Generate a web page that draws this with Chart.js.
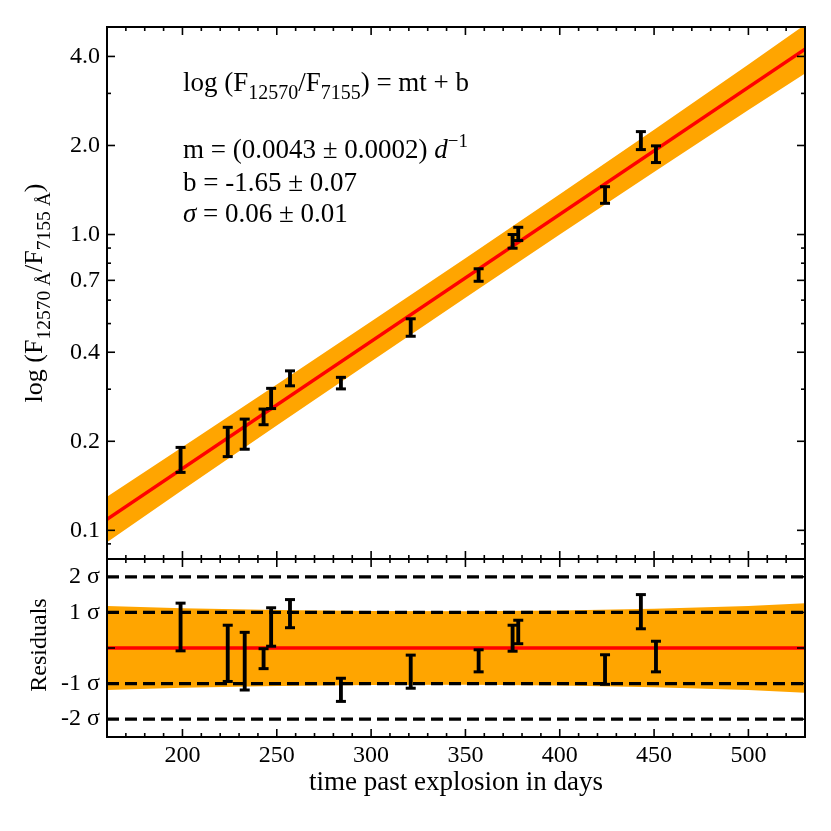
<!DOCTYPE html>
<html><head><meta charset="utf-8">
<script src="https://cdn.jsdelivr.net/npm/chart.js@4"></script>
<style>
html,body{margin:0;padding:0;background:#fff;}
#wrap{position:relative;width:831px;height:831px;background:#fff;overflow:hidden;}
canvas{position:absolute;left:0;}
</style></head><body>
<div id="wrap">
<canvas id="topc" width="831" height="560" style="top:0px"></canvas>
<canvas id="botc" width="831" height="282" style="top:549px"></canvas>
</div>
<script>
// ---------- data ----------
const days       = [199, 224, 233, 243, 247, 257, 284, 321, 357, 375, 378, 424, 443, 451];
const ratioLow   = [0.157, 0.1775, 0.188, 0.2275, 0.258, 0.308, 0.3007, 0.453, 0.695, 0.899, 0.954, 1.275, 1.937, 1.751];
const ratioHigh  = [0.1907, 0.223, 0.2377, 0.257, 0.302, 0.346, 0.329, 0.519, 0.766, 1.0, 1.058, 1.451, 2.228, 1.994];
const residLow   = [-0.08, -0.94, -1.18, -0.58, 0.05, 0.57, -1.50, -1.13, -0.67, -0.09, 0.12, -1.02, 0.54, -0.67];
const residHigh  = [1.26, 0.64, 0.44, -0.02, 1.13, 1.36, -0.85, -0.20, -0.05, 0.64, 0.78, -0.19, 1.50, 0.19];
const fitDays    = [160, 530];
const fitRatio   = [0.109, 4.23];
const fitResid   = [0, 0];
const bandDays      = [160, 200, 250, 300, 350, 400, 450, 500, 530];
const bandRatioLow  = [0.0912, 0.1368, 0.226, 0.3722, 0.611, 1.0, 1.627, 2.636, 3.50];
const bandRatioHigh = [0.130, 0.1912, 0.311, 0.508, 0.832, 1.368, 2.262, 3.753, 5.12];
const bandResidLow  = [-1.18, -1.12, -1.07, -1.04, -1.03, -1.05, -1.10, -1.18, -1.26];
const bandResidHigh = [1.18, 1.12, 1.07, 1.04, 1.03, 1.05, 1.10, 1.18, 1.26];
const sigmaLevels = [-2, -1, 1, 2];
const xTicks      = [200, 250, 300, 350, 400, 450, 500];
const xMinorTicks = [170,180,190,210,220,230,240,260,270,280,290,310,320,330,340,360,370,380,390,410,420,430,440,460,470,480,490,510,520];
const yTicks      = [0.1, 0.2, 0.4, 0.7, 1.0, 2.0, 4.0];
const yTickLabels = ['0.1', '0.2', '0.4', '0.7', '1.0', '2.0', '4.0'];
const yMinorTicks = [0.09, 0.3, 0.5, 0.6, 0.8, 0.9, 3.0];
const residTicks      = [-2, -1, 0, 1, 2];
const residTickLabels = ['-2 σ', '-1 σ', '', '1 σ', '2 σ'];
const xTitle = 'time past explosion in days';
// ------------------------------------------------

const SERIF = '"Liberation Serif", "Times New Roman", serif';
const ORANGE = '#ffa500';

function drawRich(ctx, segs, x, y, size, subScale) {
  const k = subScale || 0.7;
  const fontFor = s => (s.it ? 'italic ' : '') + ((s.sub || s.sup) ? size * k : size) + 'px ' + SERIF;
  let total = 0;
  segs.forEach(s => { ctx.font = fontFor(s); s.w = ctx.measureText(s.t).width; total += s.w; });
  return {total, draw(cx) {
    segs.forEach(s => {
      ctx.font = fontFor(s);
      const dy = s.sub ? size * 0.3 : (s.sup ? -size * 0.42 : 0);
      ctx.fillText(s.t, cx, y + dy);
      cx += s.w;
    });
  }};
}

const framePlugin = {
  id: 'frame',
  afterDatasetsDraw(chart, args, o) {
    const {ctx, chartArea: a, scales} = chart;
    const xs = scales.x, ys = scales.y;
    ctx.save();
    ctx.strokeStyle = '#000';
    ctx.lineWidth = 1.6;
    const seg = (x1, y1, x2, y2) => { ctx.beginPath(); ctx.moveTo(x1, y1); ctx.lineTo(x2, y2); ctx.stroke(); };
    const xt = (vals, len) => vals.forEach(v => { const p = xs.getPixelForValue(v); seg(p, a.top, p, a.top + len); seg(p, a.bottom, p, a.bottom - len); });
    const yt = (vals, len) => vals.forEach(v => { const p = ys.getPixelForValue(v); seg(a.left, p, a.left + len, p); seg(a.right, p, a.right - len, p); });
    xt(o.xMajor, 8); xt(o.xMinor, 4);
    yt(o.yMajor, 8); yt(o.yMinor || [], 4);
    ctx.lineWidth = 2;
    ctx.strokeRect(a.left, a.top, a.right - a.left, a.bottom - a.top);
    ctx.restore();
  },
  afterDraw(chart, args, o) {
    const {ctx, chartArea: a} = chart;
    ctx.save();
    ctx.fillStyle = '#000';
    ctx.textBaseline = 'alphabetic';
    ctx.textAlign = 'left';
    (o.notes || []).forEach(n => {
      const r = drawRich(ctx, n.segs, 0, a.top + n.dy, n.size, n.k);
      r.draw(a.left + n.dx);
    });
    if (o.ytitle) {
      const t = o.ytitle;
      ctx.translate(t.x, (a.top + a.bottom) / 2 + (t.shift || 0));
      ctx.rotate(-Math.PI / 2);
      const r = drawRich(ctx, t.segs, 0, 0, t.size, t.k);
      r.draw(-r.total / 2);
    }
    ctx.restore();
  }
};

const pts = (xs, ys) => xs.map((x, i) => ({x, y: ys[i]}));

function errorDatasets(lo, hi) {
  return [
    {type: 'bar', data: days.map((d, i) => ({x: d, y: [lo[i], hi[i]]})),
     backgroundColor: '#000', borderWidth: 0, barThickness: 3.2, grouped: false, order: 2},
    {type: 'line', data: pts(days, lo).concat(pts(days, hi)), showLine: false,
     pointStyle: 'line', pointRadius: 5, pointBorderWidth: 3, pointBorderColor: '#000', order: 1}
  ];
}

const noPad = s => { s.paddingTop = 0; s.paddingBottom = 0; s.paddingLeft = 0; s.paddingRight = 0; };

function yAxis(extra) {
  return Object.assign({
    afterFit: s => { s.width = 107; noPad(s); },
    grid: {display: false, drawTicks: false},
    border: {display: false},
  }, extra);
}

// ---------- top panel ----------
new Chart(document.getElementById('topc'), {
  type: 'line',
  data: {datasets: [
    {data: pts(bandDays, bandRatioLow), borderWidth: 0, pointRadius: 0, fill: false, order: 10},
    {data: pts(bandDays, bandRatioHigh), borderWidth: 0, pointRadius: 0, fill: '-1', backgroundColor: ORANGE, order: 10},
    {data: pts(fitDays, fitRatio), borderColor: '#ff0000', borderWidth: 3.5, pointRadius: 0, fill: false, order: 5},
    ...errorDatasets(ratioLow, ratioHigh)
  ]},
  options: {
    responsive: false, animation: false, events: [],
    layout: {autoPadding: false, padding: {left: 0, right: 26, top: 27, bottom: 1}},
    plugins: {
      legend: {display: false}, tooltip: {enabled: false},
      frame: {
        xMajor: xTicks, xMinor: xMinorTicks, yMajor: yTicks, yMinor: yMinorTicks,
        notes: [
          {dx: 76, dy: 64, size: 27, k: 0.74, segs: [{t: 'log (F'}, {t: '12570', sub: 1}, {t: '/F'}, {t: '7155', sub: 1}, {t: ') = mt + b'}]},
          {dx: 76, dy: 131, size: 27, segs: [{t: 'm = (0.0043 ± 0.0002) '}, {t: 'd', it: 1}, {t: '−1', sup: 1}]},
          {dx: 76, dy: 164, size: 27, segs: [{t: 'b = -1.65 ± 0.07'}]},
          {dx: 76, dy: 195, size: 27, segs: [{t: 'σ', it: 1}, {t: ' = 0.06 ± 0.01'}]}
        ],
        ytitle: {x: 42, size: 26, k: 0.75, segs: [{t: 'log (F'}, {t: '12570 Å', sub: 1}, {t: '/F'}, {t: '7155 Å', sub: 1}, {t: ')'}]}
      }
    },
    scales: {
      x: {type: 'linear', min: 160, max: 530, display: false, offset: false, afterFit: noPad},
      y: yAxis({type: 'logarithmic', min: 0.08, max: 5.03,
        afterBuildTicks: s => { s.ticks = yTicks.map(v => ({value: v})); },
        ticks: {autoSkip: false, padding: 7, color: '#000', font: {family: SERIF, size: 24},
                callback: (v, i) => yTickLabels[i]}})
    }
  },
  plugins: [framePlugin]
});

// ---------- residual panel ----------
new Chart(document.getElementById('botc'), {
  type: 'line',
  data: {datasets: [
    {data: pts(bandDays, bandResidLow), borderWidth: 0, pointRadius: 0, fill: false, order: 10},
    {data: pts(bandDays, bandResidHigh), borderWidth: 0, pointRadius: 0, fill: '-1', backgroundColor: ORANGE, order: 10},
    {data: pts(fitDays, fitResid), borderColor: '#ff0000', borderWidth: 3.5, pointRadius: 0, fill: false, order: 5},
    ...sigmaLevels.map(l => ({data: pts(fitDays, fitDays.map(() => l)), borderColor: '#000', borderWidth: 3.2,
      borderDash: [12, 6], pointRadius: 0, fill: false, order: 4})),
    ...errorDatasets(residLow, residHigh)
  ]},
  options: {
    responsive: false, animation: false, events: [],
    layout: {autoPadding: false, padding: {left: 0, right: 26, top: 10, bottom: 0}},
    plugins: {
      legend: {display: false}, tooltip: {enabled: false},
      frame: {
        xMajor: xTicks, xMinor: xMinorTicks, yMajor: residTicks,
        ytitle: {x: 46, size: 24, shift: -3, segs: [{t: 'Residuals'}]}
      }
    },
    scales: {
      x: {type: 'linear', min: 160, max: 530, offset: false,
        afterBuildTicks: s => { s.ticks = xTicks.map(v => ({value: v})); },
        afterFit: s => { s.height = 94; noPad(s); },
        grid: {display: false, drawTicks: false}, border: {display: false},
        ticks: {autoSkip: false, maxRotation: 0, padding: 4, color: '#000', font: {family: SERIF, size: 24},
                callback: (v, i) => String(xTicks[i])},
        title: {display: true, text: xTitle, color: '#000', font: {family: SERIF, size: 27}, padding: {top: 0, bottom: 32}}},
      y: yAxis({type: 'linear', min: -2.5, max: 2.5,
        afterBuildTicks: s => { s.ticks = residTicks.map(v => ({value: v})); },
        ticks: {autoSkip: false, padding: 7, color: '#000', font: {family: SERIF, size: 24},
                callback: (v, i) => residTickLabels[i]}})
    }
  },
  plugins: [framePlugin]
});
</script>
</body></html>
